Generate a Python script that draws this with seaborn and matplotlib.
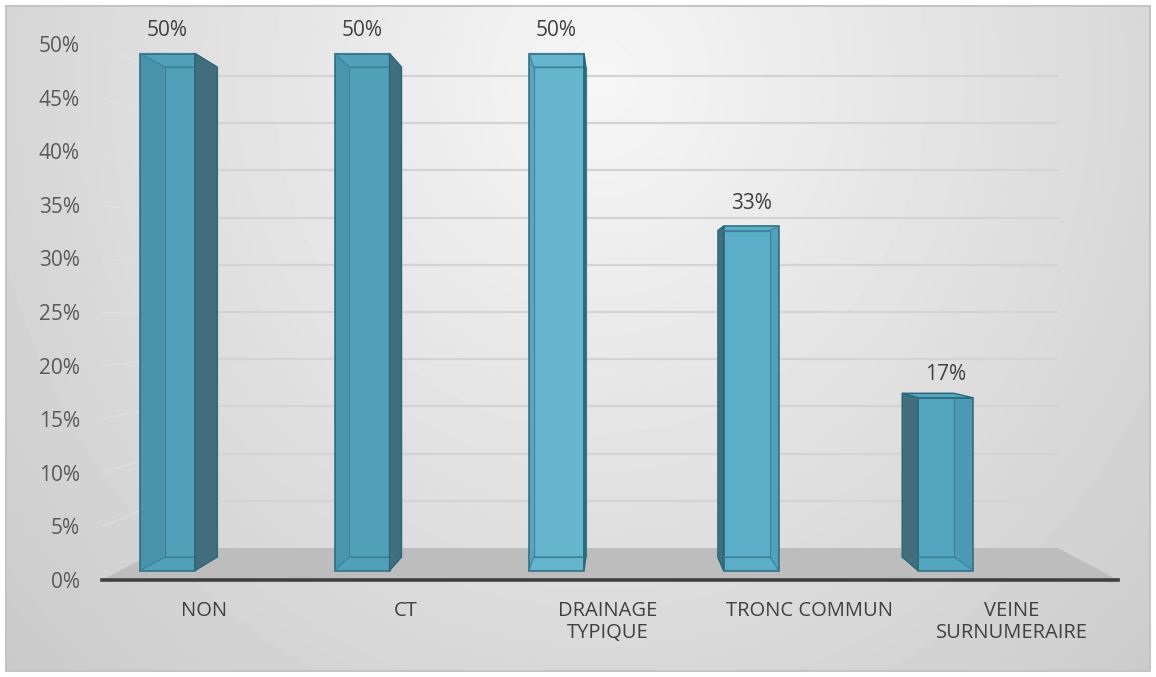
import numpy as np
import pandas as pd
import matplotlib
matplotlib.use("Agg")
import matplotlib.pyplot as plt
import seaborn as sns
from matplotlib.patches import Polygon, Rectangle

# ---------------- data ----------------
categories = ["NON", "CT", "DRAINAGE\nTYPIQUE", "TRONC COMMUN", "VEINE\nSURNUMERAIRE"]
values = [50, 50, 50, 33.3, 16.7]
value_labels = ["50%", "50%", "50%", "33%", "17%"]
ytick_values = [0, 5, 10, 15, 20, 25, 30, 35, 40, 45, 50]
ytick_labels = [f"{v}%" for v in ytick_values]
front_colors = ["#519fb8", "#50a0b9", "#64b5cd", "#5aaec8", "#54a6c0"]
hidden_side_color = "#2f6f84"
side_color = "#436f7d"
edge_color = "#2b6778"
inner_edge_color = "#3a8197"

# ---------------- style ----------------
sns.set_style("white")
plt.rcParams["font.family"] = ["Open Sans", "DejaVu Sans"]

# ---------------- layout constants (pixels, origin top-left) ----------------
W, H = 1156, 677
AX_L, AX_R, AX_T, AX_B = 102, 1118, 20, 580
BAR0_PX, STEP_PX = 167.5, 194.5          # front-plane bar spacing
FRONT_Y0_PX, FRONT_PX_PER = 570.5, 10.34 # front plane of bars
LABEL_Y0_PX, LABEL_PX_PER = 580.0, 10.72 # tick-label plane
VP_PX = (617.0, 312.0)                   # vanishing point
K_BACK = 0.9476                          # back face of bars vs front face
K_WALL = 0.8806                          # back wall vs label plane
XLABEL_PX0, XLABEL_STEP = 204.0, 202.0


def px2data(x, y):
    return ((x - BAR0_PX) / STEP_PX, (FRONT_Y0_PX - y) / FRONT_PX_PER)


def fig_rect(l, t, r, b):
    return [l / W, (H - b) / H, (r - l) / W, (b - t) / H]


fig = plt.figure(figsize=(W / 100, H / 100), dpi=100)
fig.patch.set_facecolor("white")

# background gradient of chart area
bg = fig.add_axes(fig_rect(6, 6, 1150, 671), zorder=0)
yy, xx = np.mgrid[6:671, 6:1150]
r = np.sqrt(((xx - 600) / 650.0) ** 2 + ((yy - 80) / 700.0) ** 2)
shade = np.clip(0.965 - 0.14 * r, 0, 1)
bg.imshow(shade, cmap="gray", vmin=0, vmax=1, aspect="auto",
          extent=(0, 1, 0, 1), interpolation="bilinear")
bg.set_xlim(0, 1)
bg.set_ylim(0, 1)
bg.axis("off")
bg.add_patch(Rectangle((0, 0), 1, 1, fill=False, ec="#c4c4c4", lw=1.5,
                       transform=bg.transAxes, clip_on=False))

# main axes
ax = fig.add_axes(fig_rect(AX_L, AX_T, AX_R, AX_B), zorder=1)
ax.set_facecolor("none")

df = pd.DataFrame({"cat": categories, "val": values})
sns.barplot(data=df, x="cat", y="val", hue="cat", palette=front_colors,
            saturation=1, legend=False, width=55 / STEP_PX, ax=ax,
            edgecolor=edge_color, linewidth=1.1, zorder=3, errorbar=None)

x_lo, y_lo = px2data(AX_L, AX_B)
x_hi, y_hi = px2data(AX_R, AX_T)
ax.set_xlim(x_lo, x_hi)
ax.set_ylim(y_lo, y_hi)

VPd = np.array(px2data(*VP_PX))

# back wall, floor, gridlines
xwl_px = VP_PX[0] + (AX_L - VP_PX[0]) * K_WALL
xwr_px = VP_PX[0] + (AX_R - VP_PX[0]) * K_WALL
yw0_px = VP_PX[1] + (AX_B - VP_PX[1]) * K_WALL
floor = [px2data(AX_L, AX_B), px2data(AX_R, AX_B),
         px2data(xwr_px, yw0_px), px2data(xwl_px, yw0_px)]
ax.add_patch(Polygon(floor, closed=True, fc="#bdbdbd", ec="none", zorder=2))

for v in ytick_values[1:]:
    yl_px = LABEL_Y0_PX - LABEL_PX_PER * v
    yw_px = VP_PX[1] + (yl_px - VP_PX[1]) * K_WALL
    a = px2data(xwl_px, yw_px)
    b = px2data(xwr_px, yw_px)
    c = px2data(AX_L, yl_px)
    ax.plot([a[0], b[0]], [a[1], b[1]], color="#d3d3d3", lw=1.6, zorder=1.5,
            solid_capstyle="butt")
    ax.plot([c[0], a[0]], [c[1], a[1]], color="#e2e2e2", lw=1.0, zorder=1.5,
            alpha=0.7)

# 3-D faces of the bars
for i, p in enumerate(ax.patches[:len(values)]):
    x0 = p.get_x()
    x1 = x0 + p.get_width()
    h = p.get_height()
    front = np.array([[x0, 0], [x1, 0], [x1, h], [x0, h]])
    back = VPd + (front - VPd) * K_BACK
    col = front_colors[i]
    if (x0 + x1) / 2 < VPd[0]:
        side = [front[1], front[2], back[2], back[1]]
        hidden = [front[0], front[3], back[3], back[0]]
    else:
        side = [front[0], front[3], back[3], back[0]]
        hidden = [front[1], front[2], back[2], back[1]]
    # hidden side seen through the transparent front
    ax.add_patch(Polygon(hidden, closed=True, fc=hidden_side_color, ec="none",
                         alpha=0.22, zorder=3.3))
    # back face edges
    ax.add_patch(Polygon(back, closed=True, fill=False, ec=inner_edge_color,
                         lw=0.9, alpha=0.9, zorder=3.4))
    # bottom face edges
    bottom = [front[0], front[1], back[1], back[0]]
    ax.add_patch(Polygon(bottom, closed=True, fill=False, ec=inner_edge_color,
                         lw=0.9, alpha=0.9, zorder=3.4))
    # top face
    top = [front[3], front[2], back[2], back[3]]
    if h < VPd[1]:
        ax.add_patch(Polygon(top, closed=True, fc=col, ec=edge_color, lw=1.0,
                             zorder=3.6))
    else:
        ax.add_patch(Polygon(top, closed=True, fill=False, ec=inner_edge_color,
                             lw=0.9, alpha=0.9, zorder=3.4))
    # visible side face
    ax.add_patch(Polygon(side, closed=True, fc=side_color, ec=edge_color,
                         lw=1.0, zorder=3.6))

# value labels
conts = ax.containers
if len(conts) == len(values):
    for c, lab in zip(conts, value_labels):
        ax.bar_label(c, labels=[lab], padding=9, fontsize=15, color="#404040")
else:
    ax.bar_label(conts[0], labels=value_labels, padding=9, fontsize=15,
                 color="#404040")

# ticks
ytick_pos = [px2data(0, LABEL_Y0_PX - LABEL_PX_PER * v)[1] for v in ytick_values]
ax.set_yticks(ytick_pos)
ax.set_yticklabels(ytick_labels, fontsize=15, color="#595959")
xtick_pos = [px2data(XLABEL_PX0 + XLABEL_STEP * i, 0)[0] for i in range(len(categories))]
ax.set_xticks(xtick_pos)
ax.set_xticklabels(categories, fontsize=14.5, color="#404040",
                   linespacing=1.15)
ax.tick_params(axis="both", length=0)
ax.tick_params(axis="y", pad=16)
ax.tick_params(axis="x", pad=15)
ax.set_xlabel("")
ax.set_ylabel("")
for s in ["top", "right", "left"]:
    ax.spines[s].set_visible(False)
ax.spines["bottom"].set_color("#3f3f3f")
ax.spines["bottom"].set_linewidth(2.6)
ax.spines["bottom"].set_zorder(5)
ax.grid(False)

fig.savefig("out.png", dpi=100, facecolor="white")
